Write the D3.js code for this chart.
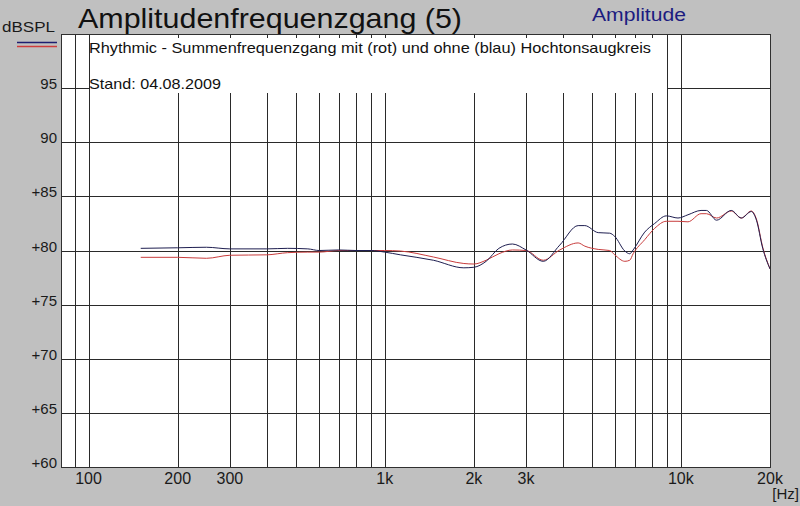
<!DOCTYPE html>
<html>
<head>
<meta charset="utf-8">
<script src="https://cdn.jsdelivr.net/npm/d3@7"></script>
<style>
  body { margin: 0; background: #c0c0c0; }
  svg { display: block; font-family: "Liberation Sans", Arial, sans-serif; }
</style>
</head>
<body>
<div id="chart"></div>
<script>
// frequency points (Hz)
const freqs = [150, 200, 250, 300, 400, 470, 550, 600, 700, 800, 900, 1000, 1130, 1460, 1850, 2000,
  2200, 2430, 2700, 3000, 3430, 3900, 4500, 4740, 5260, 5750, 5980, 6470, 6720, 6900, 7550, 8160,
  8930, 9780, 10570, 11700, 12200, 13200, 14800, 16000, 17300, 18000, 18900, 20000];

// ohne Hochtonsaugkreis (blau)
const blueSPL = [80.2, 80.25, 80.3, 80.15, 80.15, 80.2, 80.15, 80.0, 80.05, 80.0, 80.0, 79.85, 79.6, 79.1, 78.4, 78.45,
  79.0, 80.2, 80.6, 80.05, 79.0, 80.5, 82.3, 82.3, 81.65, 81.6, 81.3, 79.95, 79.7, 80.05, 81.7, 82.5,
  83.2, 83.0, 83.3, 83.7, 83.7, 82.8, 83.7, 83.0, 83.6, 82.8, 80.2, 78.3];

// mit Hochtonsaugkreis (rot)
const redSPL = [79.37, 79.37, 79.28, 79.56, 79.6, 79.8, 79.85, 79.85, 80.0, 80.0, 80.0, 80.0, 79.95, 79.4, 78.8, 78.75,
  79.1, 79.7, 80.05, 80.0, 79.1, 80.05, 80.7, 80.4, 80.1, 80.0, 79.6, 79.0, 79.1, 79.7, 81.0, 82.05,
  82.7, 82.7, 82.65, 83.4, 83.4, 83.0, 83.65, 83.0, 83.65, 82.9, 80.3, 78.3];

const yTicks = [60, 65, 70, 75, 80, 85, 90, 95];
const yTickLabels = ['+60', '+65', '+70', '+75', '+80', '+85', '90', '95'];
const xLabelFreqs = [100, 200, 300, 1000, 2000, 3000, 10000, 20000];
const xLabels = ['100', '200', '300', '1k', '2k', '3k', '10k', '20k'];
const gridFreqs = [90, 100, 200, 300, 400, 500, 600, 700, 800, 900,
  1000, 2000, 3000, 4000, 5000, 6000, 7000, 8000, 9000, 10000];

const width = 800;
const height = 506;
const plot = { left: 61, right: 770, top: 34, bottom: 467 };

const svg = d3.select('#chart').append('svg')
  .attr('width', width)
  .attr('height', height);

svg.append('rect').attr('width', width).attr('height', height).attr('fill', '#c0c0c0');

const x = d3.scaleLog().domain([80.7, 20000]).range([plot.left, plot.right]);
const y = d3.scaleLinear().domain([60, 100]).range([plot.bottom, plot.top]);

// plot background
svg.append('rect')
  .attr('x', plot.left).attr('y', plot.top)
  .attr('width', plot.right - plot.left).attr('height', plot.bottom - plot.top)
  .attr('fill', '#ffffff');

const grid = svg.append('g').attr('stroke', '#2a2a2a').attr('stroke-width', 1).attr('shape-rendering', 'crispEdges');

grid.selectAll('line.v')
  .data(gridFreqs)
  .enter()
  .append('line')
  .attr('class', 'v')
  .attr('x1', (d) => Math.round(x(d)) + 0.5)
  .attr('x2', (d) => Math.round(x(d)) + 0.5)
  .attr('y1', plot.top)
  .attr('y2', plot.bottom);

grid.selectAll('line.h')
  .data(yTicks.slice(1))
  .enter()
  .append('line')
  .attr('class', 'h')
  .attr('x1', plot.left)
  .attr('x2', plot.right)
  .attr('y1', (d) => Math.round(y(d)) + 0.5)
  .attr('y2', (d) => Math.round(y(d)) + 0.5);

// white box behind the comment text covers the grid
svg.append('rect')
  .attr('x', Math.round(x(100)) + 1)
  .attr('y', plot.top + 4)
  .attr('width', Math.round(x(9000)) - Math.round(x(100)) - 1)
  .attr('height', 55)
  .attr('fill', '#ffffff');

// curves
const line = d3.line()
  .x((d) => x(d[0]))
  .y((d) => y(d[1]))
  .curve(d3.curveMonotoneX);

svg.append('path')
  .datum(freqs.map((f, i) => [f, redSPL[i]]))
  .attr('d', line)
  .attr('fill', 'none')
  .attr('stroke', '#c83c3c')
  .attr('stroke-width', 1);

svg.append('path')
  .datum(freqs.map((f, i) => [f, blueSPL[i]]))
  .attr('d', line)
  .attr('fill', 'none')
  .attr('stroke', '#1e1e50')
  .attr('stroke-width', 1);

// frame
svg.append('rect')
  .attr('x', plot.left + 0.5).attr('y', plot.top + 0.5)
  .attr('width', plot.right - plot.left).attr('height', plot.bottom - plot.top)
  .attr('fill', 'none')
  .attr('stroke', '#303030')
  .attr('stroke-width', 1);

// y axis labels
svg.selectAll('text.ylab')
  .data(yTicks)
  .enter()
  .append('text')
  .attr('class', 'ylab')
  .attr('x', plot.left - 4)
  .attr('y', (d) => y(d) + 1)
  .attr('text-anchor', 'end')
  .attr('font-size', 15)
  .attr('fill', '#1a1a1a')
  .text((d, i) => yTickLabels[i]);

// x axis labels
svg.selectAll('text.xlab')
  .data(xLabelFreqs)
  .enter()
  .append('text')
  .attr('class', 'xlab')
  .attr('x', (d) => x(d))
  .attr('y', plot.bottom + 17)
  .attr('text-anchor', 'middle')
  .attr('font-size', 16)
  .attr('fill', '#1a1a1a')
  .text((d, i) => xLabels[i]);

svg.append('text')
  .attr('x', 799).attr('y', 499)
  .attr('text-anchor', 'end')
  .attr('font-size', 15)
  .attr('fill', '#1a1a1a')
  .text('[Hz]');

// titles
svg.append('text')
  .attr('x', 78).attr('y', 28)
  .attr('font-size', 28)
  .attr('textLength', 384)
  .attr('lengthAdjust', 'spacingAndGlyphs')
  .attr('fill', '#111')
  .text('Amplitudenfrequenzgang (5)');

svg.append('text')
  .attr('x', 592).attr('y', 21)
  .attr('font-size', 18)
  .attr('textLength', 94)
  .attr('lengthAdjust', 'spacingAndGlyphs')
  .attr('fill', '#1c1c80')
  .text('Amplitude');

svg.append('text')
  .attr('x', 2).attr('y', 32)
  .attr('font-size', 15)
  .attr('textLength', 53)
  .attr('lengthAdjust', 'spacingAndGlyphs')
  .attr('fill', '#1a1a1a')
  .text('dBSPL');

// legend strokes
svg.append('line').attr('x1', 17).attr('x2', 57).attr('y1', 42.5).attr('y2', 42.5)
  .attr('stroke', '#1e1e70').attr('stroke-width', 1.5);
svg.append('line').attr('x1', 17).attr('x2', 57).attr('y1', 46.5).attr('y2', 46.5)
  .attr('stroke', '#d03c3c').attr('stroke-width', 1.5);

// comment texts
svg.append('text')
  .attr('x', 89).attr('y', 53)
  .attr('font-size', 15)
  .attr('textLength', 562)
  .attr('lengthAdjust', 'spacingAndGlyphs')
  .attr('fill', '#111')
  .text('Rhythmic - Summenfrequenzgang mit (rot) und ohne (blau) Hochtonsaugkreis');

svg.append('text')
  .attr('x', 89).attr('y', 89)
  .attr('font-size', 15)
  .attr('textLength', 132)
  .attr('lengthAdjust', 'spacingAndGlyphs')
  .attr('fill', '#111')
  .text('Stand: 04.08.2009');
</script>
</body>
</html>
